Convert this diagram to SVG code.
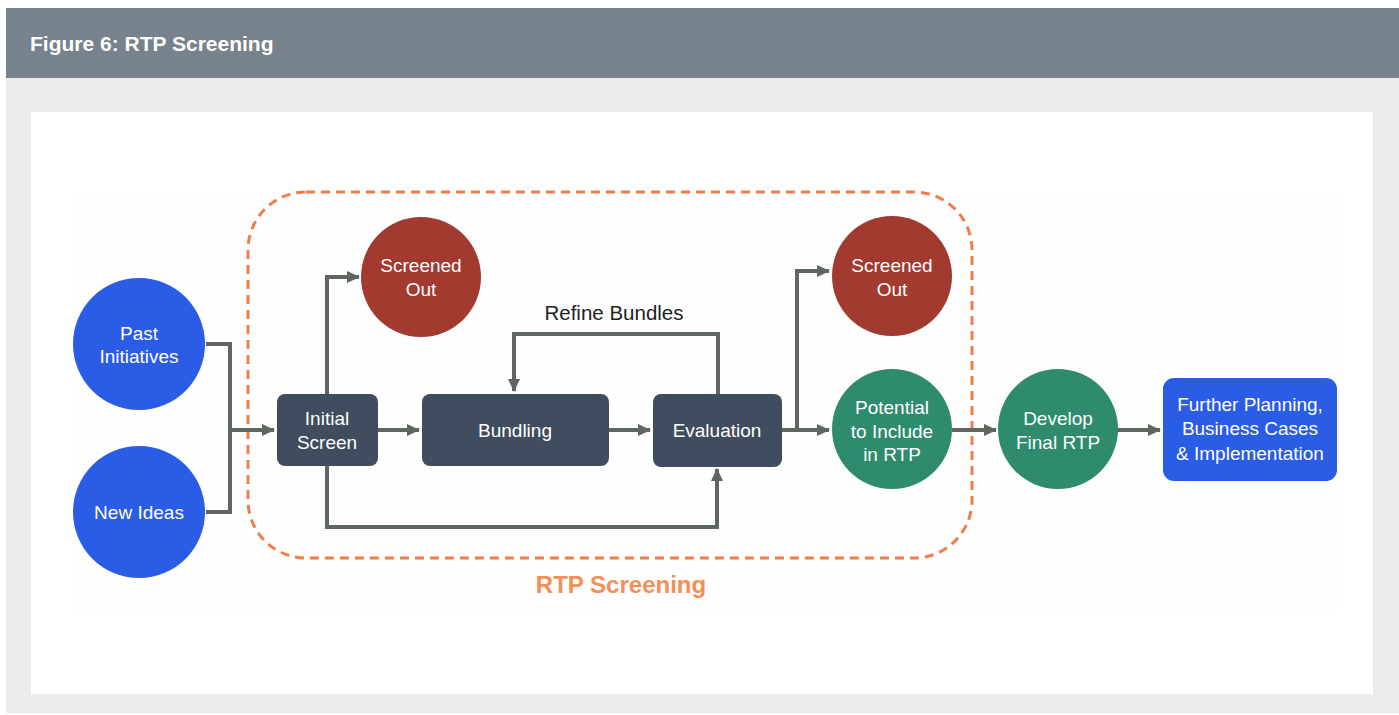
<svg xmlns="http://www.w3.org/2000/svg" width="1399" height="715" viewBox="0 0 1399 715">
<style>
.t{font-family:"Liberation Sans",Arial,sans-serif;font-size:19px;fill:#ffffff;text-anchor:middle}
.c{fill:none;stroke:#5f6660;stroke-width:4}
</style>
<defs>
<marker id="ah" markerUnits="userSpaceOnUse" markerWidth="14" markerHeight="14" refX="12" refY="7" orient="auto">
<path d="M0,1 L13,7 L0,13 Z" fill="#5f6660"/>
</marker>
</defs>
<rect x="0" y="0" width="1399" height="715" fill="#ffffff"/>
<rect x="6" y="78" width="1393" height="635" fill="#ececec"/>
<rect x="6" y="8" width="1393" height="70" fill="#78828c"/>
<text x="30" y="51" font-family="Liberation Sans,Arial,sans-serif" font-size="21" font-weight="bold" fill="#ffffff">Figure 6: RTP Screening</text>
<rect x="31" y="112" width="1342" height="582" fill="#ffffff"/>
<rect x="73" y="192" width="1267" height="418" fill="#fefefe"/>

<rect x="248" y="192" width="724" height="366" rx="58" ry="58" fill="none" stroke="#f07c4a" stroke-width="3" stroke-dasharray="9 6"/>
<text x="621" y="593" font-family="Liberation Sans,Arial,sans-serif" font-size="24" font-weight="bold" fill="#f29058" text-anchor="middle">RTP Screening</text>

<g id="connectors">
<path class="c" d="M206,344 H230 V512 H206"/>
<path class="c" d="M230,430 H274" marker-end="url(#ah)"/>
<path class="c" d="M378,430 H419" marker-end="url(#ah)"/>
<path class="c" d="M327,394 V277 H359" marker-end="url(#ah)"/>
<path class="c" d="M327,466 V527 H717 V469" marker-end="url(#ah)"/>
<path class="c" d="M609,430 H650" marker-end="url(#ah)"/>
<path class="c" d="M718,394 V334 H514 V391" marker-end="url(#ah)"/>
<path class="c" d="M782,430 H829" marker-end="url(#ah)"/>
<path class="c" d="M797,430 V271 H829" marker-end="url(#ah)"/>
<path class="c" d="M952,430 H996" marker-end="url(#ah)"/>
<path class="c" d="M1117,430 H1160" marker-end="url(#ah)"/>
<text x="614" y="320" font-family="Liberation Sans,Arial,sans-serif" font-size="20.5" fill="#222222" text-anchor="middle">Refine Bundles</text>
</g>

<g id="past">
<circle cx="139" cy="344" r="66" fill="#2a5ce6"/>
<text class="t" x="139" y="340">Past</text>
<text class="t" x="139" y="363">Initiatives</text>
</g>
<g id="newideas">
<circle cx="139" cy="512" r="66" fill="#2a5ce6"/>
<text class="t" x="139" y="519">New Ideas</text>
</g>
<g id="initial">
<rect x="277" y="394" width="101" height="72" rx="8" fill="#3f4d5e"/>
<text class="t" x="327" y="425">Initial</text>
<text class="t" x="327" y="449">Screen</text>
</g>
<g id="screened1">
<circle cx="421" cy="277" r="60" fill="#a23a30"/>
<text class="t" x="421" y="272">Screened</text>
<text class="t" x="421" y="296">Out</text>
</g>
<g id="bundling">
<rect x="422" y="394" width="187" height="72" rx="8" fill="#3f4d5e"/>
<text class="t" x="515" y="437">Bundling</text>
</g>
<g id="evaluation">
<rect x="653" y="394" width="129" height="73" rx="8" fill="#3f4d5e"/>
<text class="t" x="717" y="437">Evaluation</text>
</g>
<g id="screened2">
<circle cx="892" cy="276" r="60" fill="#a23a30"/>
<text class="t" x="892" y="272">Screened</text>
<text class="t" x="892" y="296">Out</text>
</g>
<g id="potential">
<circle cx="892" cy="429" r="60" fill="#2e8b6e"/>
<text class="t" x="892" y="414">Potential</text>
<text class="t" x="892" y="438">to Include</text>
<text class="t" x="892" y="461">in RTP</text>
</g>
<g id="develop">
<circle cx="1058" cy="429" r="60" fill="#2e8b6e"/>
<text class="t" x="1058" y="425">Develop</text>
<text class="t" x="1058" y="449">Final RTP</text>
</g>
<g id="further">
<rect x="1163" y="378" width="174" height="103" rx="11" fill="#2a5ce6"/>
<text class="t" x="1250" y="411">Further Planning,</text>
<text class="t" x="1250" y="435">Business Cases</text>
<text class="t" x="1250" y="460">&amp; Implementation</text>
</g>
</svg>
